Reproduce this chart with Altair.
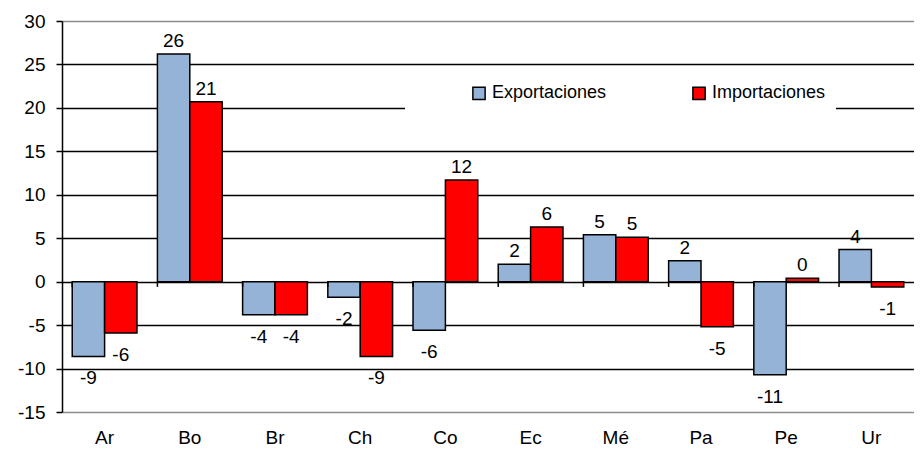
import altair as alt
import pandas as pd

paises = ["Ar", "Bo", "Br", "Ch", "Co", "Ec", "Mé", "Pa", "Pe", "Ur"]
exportaciones = [-8.6, 26.2, -3.8, -1.8, -5.6, 2.0, 5.4, 2.4, -10.7, 3.7]
importaciones = [-5.9, 20.7, -3.8, -8.6, 11.7, 6.3, 5.1, -5.2, 0.4, -0.6]
series = ["Exportaciones", "Importaciones"]
colores = ["#95B3D7", "#FF0000"]

rows = []
for i, p in enumerate(paises):
    rows.append({"pais": p, "serie": series[0], "valor": exportaciones[i]})
    rows.append({"pais": p, "serie": series[1], "valor": importaciones[i]})
df = pd.DataFrame(rows)
df_paises = pd.DataFrame({"pais": paises})

FONT = "Liberation Sans"
NBSP = "\u00a0" * 12

x_scale = alt.Scale(paddingInner=0.24, paddingOuter=0.12)
x_axis = alt.Axis(orient="bottom", labelAngle=0, ticks=False, domain=False,
                  labelFontSize=19, labelFont=FONT, labelColor="black",
                  labelPadding=16, grid=False)
x_enc = alt.X("pais:N", sort=paises, title=None, scale=x_scale, axis=x_axis)
y_enc = alt.Y("valor:Q", title=None,
              scale=alt.Scale(domain=[-15, 30], nice=False, zero=False),
              axis=alt.Axis(values=list(range(-15, 31, 5)), labelFontSize=19, labelFont=FONT,
                            labelColor="black", tickColor="black", tickSize=6, tickWidth=1.5,
                            domainColor="black", domainWidth=1.5, labelPadding=11,
                            minExtent=54, maxExtent=54,
                            labelExpr="toString(datum.value)",
                            gridColor={"condition": {"test": "datum.value === 30 || datum.value === -15",
                                                     "value": "#8c8c8c"}, "value": "black"},
                            gridWidth=1.5))
xoff = alt.XOffset("serie:N", sort=series, scale=alt.Scale(paddingInner=0, paddingOuter=0))
color = alt.Color("serie:N", sort=series,
                  scale=alt.Scale(domain=series, range=colores),
                  legend=alt.Legend(title=None, orient="none", direction="horizontal",
                                    legendX=343, legendY=53, fillColor="white", padding=10,
                                    symbolType="square", symbolSize=150, symbolStrokeColor="black",
                                    symbolStrokeWidth=1.5, labelFontSize=18, labelFont=FONT,
                                    labelColor="black", columnPadding=28, labelOffset=4,
                                    symbolOffset=55, labelLimit=400,
                                    labelExpr="datum.label == 'Importaciones' ? datum.label + '" + NBSP + "' : datum.label"))

bars = alt.Chart(df).mark_bar(stroke="black", strokeWidth=1.5).encode(
    x=x_enc, y=y_enc, xOffset=xoff, color=color)

# small ticks at category boundaries on the zero line
ticks = alt.Chart(df_paises).mark_rule(color="black", strokeWidth=1.5).encode(
    x=alt.X("pais:N", sort=paises, title=None, scale=x_scale, axis=x_axis, bandPosition=0),
    y=alt.datum(0),
    y2=alt.datum(-0.6),
)

base_txt = alt.Chart(df).transform_calculate(etiqueta="toString(round(datum.valor))")

txt_pos = base_txt.transform_filter("datum.valor >= 0").mark_text(
    baseline="bottom", dy=-3, fontSize=19, font=FONT, color="black").encode(
    x=x_enc, xOffset=xoff, y=alt.Y("valor:Q", title=None), text="etiqueta:N")
txt_neg = base_txt.transform_filter("datum.valor < 0").mark_text(
    baseline="top", dy=13, fontSize=19, font=FONT, color="black").encode(
    x=x_enc, xOffset=xoff, y=alt.Y("valor:Q", title=None), text="etiqueta:N")

chart = alt.layer(bars, ticks, txt_pos, txt_neg).properties(
    width=852, height=391,
    padding={"left": 0, "top": 4, "right": 0, "bottom": 0},
).configure_view(stroke=None)

chart.save("out.html", embed_options={"renderer": "svg", "actions": False})
